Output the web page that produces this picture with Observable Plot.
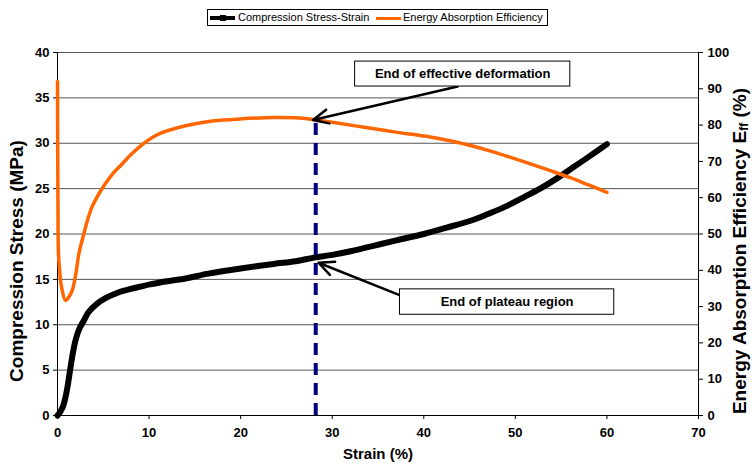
<!DOCTYPE html>
<html>
<head>
<meta charset="utf-8">
<script src="https://cdn.jsdelivr.net/npm/d3@7"></script>
<script src="https://cdn.jsdelivr.net/npm/@observablehq/plot@0.6"></script>
<style>
  html, body { margin: 0; padding: 0; background: #fff; }
  #wrap { position: relative; width: 752px; height: 466px; font-family: "Liberation Sans", Arial, sans-serif; }
  #legend { position: absolute; left: 207px; top: 9px; width: 339px; height: 15px; border: 1px solid #000;
            font-size: 11px; line-height: 15px; white-space: nowrap; background: #fff; }
  #legend .sw { position: absolute; top: 6px; height: 0; }
  #legend .lbl { position: absolute; top: 0; }
</style>
</head>
<body>
<div id="wrap">
  <div id="legend"></div>
</div>
<script>
// ---- Data ----
const stressStrain = [0, 0.3, 0.6, 0.87, 1.1, 1.42, 1.7, 1.97, 2.4, 2.9, 3.4, 4.3, 5.2, 6.5, 7.06, 8, 9.06, 10.1, 12, 14, 16.3, 18, 20, 23.6, 26, 28, 30, 32, 34.5, 37, 40, 42.5, 45.5, 47, 49.1, 51, 52.7, 54.5, 56.4, 58, 60];
const stressValues = [0, 0.4, 1.0, 2.0, 3.2, 5.3, 7.0, 8.3, 9.6, 10.5, 11.4, 12.3, 12.9, 13.5, 13.7, 13.95, 14.2, 14.45, 14.8, 15.1, 15.6, 15.9, 16.2, 16.7, 17.0, 17.4, 17.7, 18.1, 18.7, 19.3, 20.0, 20.7, 21.6, 22.2, 23.1, 24.1, 25.0, 26.1, 27.4, 28.5, 29.9];

const effStrain = [0, 0.02, 0.05, 0.1, 0.2, 0.4, 0.87, 1.2, 1.6, 2.0, 2.33, 2.87, 3.3, 3.76, 4.5, 5.2, 6, 7.06, 8, 9.25, 10.3, 11.4, 12.6, 13.98, 15.5, 17.1, 20, 23.6, 26, 28, 30, 33.5, 37.1, 40.7, 45.1, 48, 51.65, 54, 56, 58, 60];
const effValues = [92, 75, 58, 45, 41, 36, 31.7, 32.5, 34.4, 39, 44.5, 50, 54, 57.4, 61, 63.8, 66.5, 69.3, 71.8, 74.6, 76.5, 77.9, 78.9, 79.8, 80.6, 81.2, 81.7, 82.1, 82.0, 81.5, 80.8, 79.4, 78.0, 76.7, 74.4, 72.3, 69.3, 67.3, 65.5, 63.5, 61.5];

const seriesNames = ["Compression Stress-Strain", "Energy Absorption Efficiency"];
const seriesColors = ["#000000", "#ff6600"];

const leftTicks = [0, 5, 10, 15, 20, 25, 30, 35, 40];
const rightTicks = [0, 10, 20, 30, 40, 50, 60, 70, 80, 90, 100];
const xTicks = [0, 10, 20, 30, 40, 50, 60, 70];

const effectiveStrain = 28.2;   // end of effective deformation (strain %)
const xLabel = "Strain (%)";
const yLabelLeft = "Compression Stress (MPa)";
const yLabelRight = "Energy Absorption Efficiency E";
const yLabelRightSub = "ff";
const yLabelRightTail = " (%)";

const annotLabels = ["End of effective deformation", "End of plateau region"];

// ---- Derived ----
const effToStress = 40 / 100; // right axis 0–100 mapped onto left axis 0–40
const blackData = stressStrain.map((s, i) => ({strain: s, value: stressValues[i]}));
const orangeData = effStrain.map((s, i) => ({strain: s, value: effValues[i] * effToStress}));
const interp = (xs, ys, x) => {
  for (let i = 1; i < xs.length; i++) if (xs[i] >= x) {
    const t = (x - xs[i-1]) / (xs[i] - xs[i-1]);
    return ys[i-1] + t * (ys[i] - ys[i-1]);
  }
};
const effAt = x => interp(effStrain, effValues, x) * effToStress;
const stressAt = x => interp(stressStrain, stressValues, x);

// annotation layout (box in data units, arrow from box to curve)
const annotBoxes = [
  {label: annotLabels[0], x1: 32.5, x2: 56.0, y1: 36.25, y2: 39.0},
  {label: annotLabels[1], x1: 37.4, x2: 60.8, y1: 11.1, y2: 13.9}
];
const annotArrows = [
  {x1: 43.7, y1: 36.25, x2: effectiveStrain - 0.3, y2: effAt(effectiveStrain)},
  {x1: 37.5, y1: 13.2, x2: effectiveStrain + 0.3, y2: stressAt(effectiveStrain) - 0.6}
];

const chart = Plot.plot({
  width: 752,
  height: 466,
  marginLeft: 57,
  marginRight: 54,
  marginTop: 52,
  marginBottom: 51,
  style: {fontFamily: "'Liberation Sans', Arial, sans-serif", fontSize: "13px", fontWeight: "bold", background: "transparent", overflow: "visible"},
  x: {domain: [0, 70]},
  y: {domain: [0, 40]},
  marks: [
    Plot.ruleY(leftTicks.slice(1), {stroke: "#555", strokeWidth: 1}),
    Plot.axisY(leftTicks, {anchor: "left", tickSize: 4, tickPadding: 4, label: null}),
    Plot.axisY(rightTicks.map(v => v * effToStress), {anchor: "right", tickSize: 4, tickPadding: 5, tickFormat: d => Math.round(d / effToStress), label: null}),
    Plot.axisX(xTicks, {anchor: "bottom", tickSize: 4, tickPadding: 8, label: null}),
    Plot.ruleX([0, 70], {stroke: "#000", strokeWidth: 1}),
    Plot.ruleY([0], {stroke: "#000", strokeWidth: 1}),
    Plot.line(blackData, {x: "strain", y: "value", stroke: seriesColors[0], strokeWidth: 6, curve: "catmull-rom"}),
    Plot.line(orangeData, {x: "strain", y: "value", stroke: seriesColors[1], strokeWidth: 3.5, curve: "catmull-rom"}),
    Plot.ruleX([effectiveStrain], {y1: 0, y2: effAt(effectiveStrain), stroke: "#000080", strokeWidth: 4, strokeDasharray: "12,8"}),
    Plot.arrow(annotArrows, {x1: "x1", y1: "y1", x2: "x2", y2: "y2", stroke: "#000", strokeWidth: 2.5, headLength: 10, headAngle: 50}),
    Plot.rect(annotBoxes, {x1: "x1", x2: "x2", y1: "y1", y2: "y2", fill: "#fff", stroke: "#000", strokeWidth: 1}),
    Plot.text(annotBoxes, {x: d => (d.x1 + d.x2) / 2, y: d => (d.y1 + d.y2) / 2, text: "label", fontSize: 13, fontWeight: "bold", fill: "#000"}),
    Plot.text([xLabel], {frameAnchor: "bottom", dy: 43, fontSize: 15, fontWeight: "bold"})
  ]
});

const svg = d3.select(chart);
// left axis title
svg.append("text")
  .attr("transform", `translate(18,261) rotate(-90)`)
  .attr("text-anchor", "middle")
  .attr("dominant-baseline", "middle")
  .style("font-size", "19px").style("font-weight", "bold")
  .text(yLabelLeft);
// right axis title with subscript
const rt = svg.append("text")
  .attr("transform", `translate(741,251) rotate(-90)`)
  .attr("text-anchor", "middle")
  .attr("dominant-baseline", "middle")
  .style("font-size", "19px").style("font-weight", "bold");
rt.append("tspan").text(yLabelRight);
rt.append("tspan").attr("font-size", "12px").attr("dy", "4").text(yLabelRightSub);
rt.append("tspan").attr("dy", "-4").text(yLabelRightTail);

document.getElementById("wrap").appendChild(chart);
chart.style.position = "absolute";
chart.style.left = "0px";
chart.style.top = "0px";
document.getElementById("wrap").appendChild(document.getElementById("legend"));

// legend
const legend = d3.select("#legend");
const legendItems = [
  {name: seriesNames[0], color: seriesColors[0], sw: 2, lineW: 4, marker: true, text: 30},
  {name: seriesNames[1], color: seriesColors[1], sw: 168, lineW: 3, marker: false, text: 195}
];
legendItems.forEach(it => {
  legend.append("div").attr("class", "sw")
    .style("left", it.sw + "px").style("width", "25px")
    .style("border-top", `${it.lineW}px solid ${it.color}`)
    .style("top", (8 - it.lineW / 2) + "px");
  if (it.marker) legend.append("div").style("position", "absolute")
    .style("left", (it.sw + 10) + "px").style("top", "5px").style("width", "6px").style("height", "6px")
    .style("background", it.color);
  legend.append("div").attr("class", "lbl").style("left", it.text + "px").text(it.name);
});
</script>
</body>
</html>
